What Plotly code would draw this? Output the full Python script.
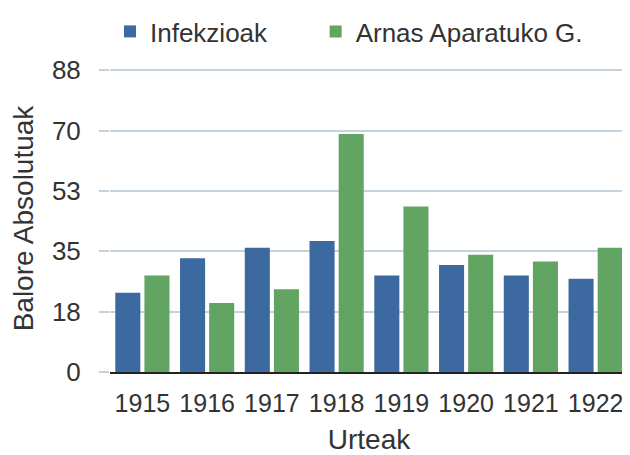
import plotly.graph_objects as go

years = ["1915", "1916", "1917", "1918", "1919", "1920", "1921", "1922"]
infekzioak = [23, 33, 36, 38, 28, 31, 28, 27]
arnas = [28, 20, 24, 69, 48, 34, 32, 36]
tick_vals = [0, 17.5, 35, 52.5, 70, 87.5]
tick_text = ["0", "18", "35", "53", "70", "88"]

font_fam = "Liberation Sans, Arial, sans-serif"
txt = "#333333"
grid = "#c3d2dc"

fig = go.Figure()
fig.add_trace(go.Bar(name="Infekzioak", x=years, y=infekzioak, legend="legend",
                     marker=dict(color="#3c69a0", line=dict(width=0))))
fig.add_trace(go.Bar(name="Arnas Aparatuko G.", x=years, y=arnas, legend="legend2",
                     marker=dict(color="#62a462", line=dict(width=0))))

leg_common = dict(orientation="h", xanchor="left", y=1.0, yref="container",
                  yanchor="top", font=dict(size=26, color=txt),
                  bgcolor="rgba(0,0,0,0)")

fig.update_layout(
    width=622, height=447,
    margin=dict(l=102, r=2, t=57, b=83),
    paper_bgcolor="white", plot_bgcolor="white",
    barmode="group", bargap=0.10, bargroupgap=0.14,
    font=dict(family=font_fam, size=24, color=txt),
    showlegend=True,
    legend=dict(x=0.0, **leg_common),
    legend2=dict(x=0.397, **leg_common),
    xaxis=dict(
        type="category", showgrid=False, showline=True, linecolor="#222222",
        linewidth=2, ticks="", automargin=False, ticklabelstandoff=8,
        tickfont=dict(size=25, color=txt),
        title=dict(text="Urteak", font=dict(size=28, color=txt), standoff=16),
    ),
    yaxis=dict(
        range=[0, 89], tickvals=tick_vals, ticktext=tick_text,
        showgrid=True, gridcolor=grid, gridwidth=2, automargin=False,
        ticks="outside", ticklen=10, tickcolor=grid, tickwidth=2,
        ticklabelstandoff=13,
        zeroline=False, showline=False,
        tickfont=dict(size=26, color=txt),
        title=dict(text="Balore Absolutuak", font=dict(size=28, color=txt), standoff=24),
    ),
)

fig.write_html("out.html")
